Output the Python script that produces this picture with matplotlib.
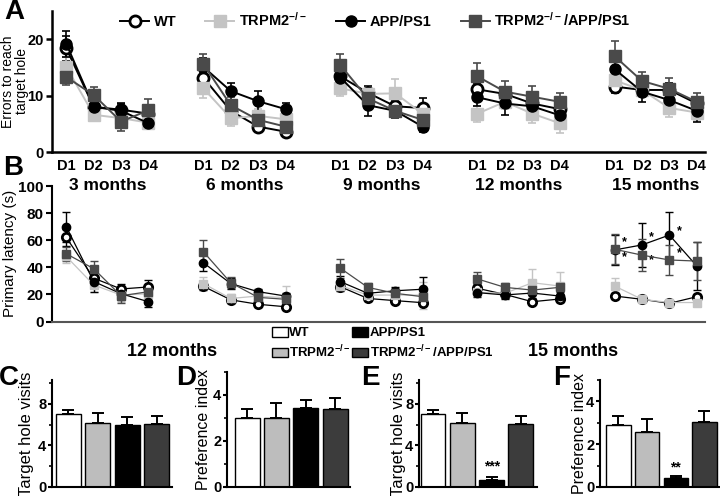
import numpy as np
import matplotlib
matplotlib.use("Agg")
import matplotlib.pyplot as plt
from matplotlib.patches import Patch

plt.rcParams['font.family'] = ['Liberation Sans', 'DejaVu Sans']
plt.rcParams['font.weight'] = 'bold'
plt.rcParams['mathtext.fontset'] = 'custom'
plt.rcParams['mathtext.rm'] = 'Liberation Sans:bold'
plt.rcParams['mathtext.bf'] = 'Liberation Sans:bold'
plt.rcParams['mathtext.default'] = 'bf'

days = ['D1', 'D2', 'D3', 'D4']
ages = ['3 months', '6 months', '9 months', '12 months', '15 months']
genotypes = ['WT', 'TRPM2$^{-/-}$', 'APP/PS1', 'TRPM2$^{-/-}$/APP/PS1']

# panel A: errors to reach target hole (mean, sem) per age x day
err_wt = [[18.4, 8.0, 7.5, 6.8], [13.2, 7.3, 4.5, 3.6], [13.4, 10.5, 8.1, 7.8], [11.1, 10.3, 8.6, 7.6], [11.6, 11.0, 11.0, 8.6]]
err_trpm = [[15.1, 6.6, 6.0, 5.2], [11.3, 6.0, 6.4, 5.8], [11.3, 10.3, 10.4, 6.8], [6.8, 8.9, 6.8, 5.1], [12.7, 11.0, 7.8, 7.0]]
err_app = [[19.2, 8.0, 7.3, 5.1], [15.1, 10.8, 9.0, 7.6], [13.2, 8.3, 7.3, 4.5], [9.7, 8.6, 8.1, 6.5], [14.7, 10.7, 9.2, 7.3]]
err_tapp = [[13.3, 10.1, 5.4, 7.4], [15.6, 8.3, 5.7, 4.5], [15.4, 9.5, 7.3, 5.7], [13.4, 10.7, 9.8, 8.9], [17.0, 12.6, 11.2, 8.9]]
err_wt_sem = [[2.2, 1.0, 1.1, 1.2], [1.0, 1.0, 0.6, 0.6], [1.5, 1.2, 1.0, 1.7], [1.2, 1.2, 1.3, 1.5], [1.2, 1.0, 1.2, 1.2]]
err_trpm_sem = [[1.7, 1.0, 1.2, 1.0], [1.8, 1.4, 1.2, 1.0], [1.3, 1.0, 2.5, 1.2], [1.4, 1.2, 1.7, 1.7], [1.5, 1.2, 1.6, 1.5]]
err_app_sem = [[2.3, 1.0, 1.2, 1.0], [1.5, 1.5, 1.8, 1.0], [1.3, 1.9, 1.2, 1.0], [1.5, 2.1, 1.5, 1.2], [1.8, 1.8, 1.6, 1.9]]
err_tapp_sem = [[1.4, 1.5, 1.6, 2.0], [1.7, 1.5, 1.4, 1.2], [1.9, 1.3, 1.2, 1.3], [2.3, 1.9, 1.9, 1.6], [2.7, 1.6, 2.0, 1.6]]

# panel B: primary latency (s)
lat_wt = [[62, 32, 24, 25.5], [26, 16, 12.7, 10.9], [25.7, 17, 15.4, 13.9], [24.5, 20, 14.6, 16.6], [18.8, 16.4, 13.4, 18.3]]
lat_trpm = [[48, 27, 19.5, 20.5], [28, 17, 18.8, 17.5], [26.5, 19.5, 19.5, 19.5], [21.5, 20.8, 28.6, 26.2], [26.2, 16.4, 14, 14]]
lat_app = [[70, 29.5, 20.5, 14.6], [43.4, 28, 22, 18.8], [29.4, 20.8, 22.7, 23.8], [21.3, 19.6, 21, 18.8], [52.8, 56.5, 63.8, 41]]
lat_tapp = [[50, 39, 19, 22], [51.5, 28.6, 17.8, 16.4], [39.3, 25.2, 20.8, 18.3], [31.4, 25.2, 23.2, 25.2], [53.3, 49, 45.4, 44.6]]
lat_wt_sem = [[6, 5, 4, 5], [3, 2, 2, 2], [3, 2, 2, 2], [3, 3, 2, 2], [2, 2, 2, 2]]
lat_trpm_sem = [[5, 5, 5, 5], [5, 3, 3, 9], [4, 3, 3, 10], [3, 3, 10, 10], [6, 2, 2, 2]]
lat_app_sem = [[11, 8, 5, 4], [6, 4, 2, 2], [4, 3, 3, 9], [3, 3, 4, 3], [11, 16, 17, 18]]
lat_tapp_sem = [[5, 6, 5, 5], [9, 4, 3, 3], [7, 3, 3, 3], [5, 3, 3, 3], [11, 12, 11, 14]]

# bar panels C-F (12 and 15 months probe trial)
visits_12 = [7.0, 6.2, 6.0, 6.1]
visits_12_sem = [0.4, 0.95, 0.7, 0.7]
pref_12 = [3.0, 3.0, 3.45, 3.4]
pref_12_sem = [0.4, 0.65, 0.33, 0.45]
visits_15 = [7.0, 6.2, 0.7, 6.1]
visits_15_sem = [0.4, 0.95, 0.25, 0.7]
pref_15 = [2.92, 2.55, 0.4, 3.05]
pref_15_sem = [0.38, 0.65, 0.13, 0.5]

line_colors = ['black', '#c4c4c4', 'black', '#4a4a4a']
face_colors = ['white', '#c4c4c4', 'black', '#4a4a4a']
markers = ['o', 's', 'o', 's']
bar_colors = ['white', '#bdbdbd', 'black', '#3c3c3c']

W, H = 720, 496
fig = plt.figure(figsize=(W / 100, H / 100), dpi=100)


def px_axes(x0, y0, x1, y1):
    ax = fig.add_axes([x0 / W, 1 - y1 / H, (x1 - x0) / W, (y1 - y0) / H])
    ax._px = (x0, x1)
    return ax


def ftext(x, y, s, **kw):
    fig.text(x / W, 1 - y / H, s, **kw)


def label_at(ax, text, xpx, size, **kw):
    # put the y label centred at a given pixel column
    x0, x1 = ax._px
    ax.set_ylabel(text, fontsize=size, **kw)
    ax.yaxis.set_label_coords((xpx - x0) / (x1 - x0), 0.5)
    ax.yaxis.label.set_va('center')


def style(ax, lw=1.6, size=10):
    for s in ['top', 'right']:
        ax.spines[s].set_visible(False)
    for s in ['left', 'bottom']:
        ax.spines[s].set_linewidth(lw)
    ax.tick_params(width=lw, length=4, labelsize=size, pad=2)


def line_panel(ax, series, sems, ms, lw, ew):
    handles = []
    for gi in range(4):
        for k in range(5):
            xs = np.arange(4) + 5 * k
            ax.errorbar(xs, series[gi][k], yerr=sems[gi][k], fmt='none',
                        ecolor=line_colors[gi], elinewidth=ew, capsize=3, capthick=ew, zorder=2 + gi)
            ln, = ax.plot(xs, series[gi][k], color=line_colors[gi], lw=lw,
                          marker=markers[gi], ms=ms, mfc=face_colors[gi],
                          mec=line_colors[gi], mew=2 if gi == 0 else 1, zorder=6 + gi)
        handles.append(ln)
    ax.set_xlim(-0.52, 23.3)
    return handles


# ---- panel A
axA = px_axes(52, 11, 705, 152)
style(axA, 1.8, 10.5)
hA = line_panel(axA, [err_wt, err_trpm, err_app, err_tapp],
                [err_wt_sem, err_trpm_sem, err_app_sem, err_tapp_sem], 8, 1.4, 1.2)
axA.set_ylim(0, 25)
axA.set_yticks([0, 10, 20])
xt = [5 * k + d for k in range(5) for d in range(4)]
axA.set_xticks(xt)
axA.set_xticklabels(days * 5, fontsize=10.5)
axA.tick_params(axis='x', length=0, pad=5)
label_at(axA, 'Errors to reach\ntarget hole', 15, 10, linespacing=0.95)

fig.legend(hA, genotypes, ncol=4, loc='center left', bbox_to_anchor=(120 / W, 1 - 20 / H),
           frameon=False, fontsize=10.5, handlelength=2.0, handletextpad=0.3, columnspacing=2.0,
           borderaxespad=0, borderpad=0)

# ---- panel B
axB = px_axes(52, 186, 705, 321.5)
style(axB, 1.5, 11)
axB.spines['bottom'].set_color('#555555')
line_panel(axB, [lat_wt, lat_trpm, lat_app, lat_tapp],
           [lat_wt_sem, lat_trpm_sem, lat_app_sem, lat_tapp_sem], 6, 0.9, 1.0)
axB.set_ylim(0, 100)
axB.set_yticks(range(0, 101, 20))
axB.set_xticks([])
label_at(axB, 'Primary latency (s)', 10, 11)
for k, age in enumerate(ages):
    axB.text(5 * k + 1.5, 100, age, ha='center', va='center', fontsize=12.5)

# significance stars at 15 months
star_app_off = [6, 6, 3]
star_tapp_off = [-6, -4, 5]
for d in range(3):
    x = 20 + d + 0.35
    axB.text(x, lat_app[4][d] + star_app_off[d], '*', fontsize=9, ha='center', va='center')
    axB.text(x, lat_tapp[4][d] + star_tapp_off[d], '*', fontsize=9, ha='center', va='center')


# ---- bar panels
def bar_panel(ax, vals, sems, ylim, ticks, minor, xlim, ylabel, lab_x, lab_size=12, stars=None):
    style(ax, 1.5, 10.5)
    ax.tick_params(axis='y', length=3, pad=1)
    x = np.arange(4)
    ax.bar(x, vals, width=0.85, color=bar_colors, edgecolor='black', linewidth=1, zorder=2)
    ax.errorbar(x, vals, yerr=[np.zeros(4), sems], fmt='none', ecolor='black',
                elinewidth=1.4, capsize=4, capthick=1.4, zorder=1)
    ax.set_ylim(*ylim)
    ax.set_xlim(*xlim)
    ax.set_yticks(ticks)
    ax.set_yticks(minor, minor=True)
    ax.tick_params(axis='y', which='minor', length=2.5, width=1.2)
    ax.set_xticks([])
    label_at(ax, ylabel, lab_x, lab_size)
    if stars:
        i, s, off = stars
        ax.text(i, vals[i] + sems[i] + off, s, ha='center', va='center', fontsize=10)


axC = px_axes(52, 380, 172, 487)
bar_panel(axC, visits_12, visits_12_sem, (0, 10.3), [0, 4, 8], [2, 6, 10], (-0.55, 3.52),
          'Target hole visits', 27)
axD = px_axes(227, 372, 350, 487)
bar_panel(axD, pref_12, pref_12_sem, (0, 5), [0, 2, 4], [1, 3, 5], (-0.68, 3.5),
          'Preference index', 204, lab_size=11.5)
axE = px_axes(419, 380, 537, 487)
bar_panel(axE, visits_15, visits_15_sem, (0, 10.3), [0, 4, 8], [2, 6, 10], (-0.48, 3.55),
          'Target hole visits', 398, stars=(2, '***', 1.0))
axF = px_axes(600, 380, 720, 487)
bar_panel(axF, pref_15, pref_15_sem, (0, 5), [0, 2, 4], [1, 3, 5], (-0.64, 3.54),
          'Preference index', 580, lab_size=11.5, stars=(2, '**', 0.4))

ftext(172, 352, '12 months', ha='center', va='center', fontsize=13)
ftext(573, 352, '15 months', ha='center', va='center', fontsize=13)

bar_handles = [Patch(facecolor=c, edgecolor='black', linewidth=1) for c in bar_colors]
fig.legend(bar_handles, genotypes, ncol=2, loc='upper left', bbox_to_anchor=(272 / W, 1 - 327 / H),
           frameon=False, fontsize=9.5, handlelength=1.2, handleheight=0.75, handletextpad=0.1,
           columnspacing=0.1, labelspacing=0.3, borderaxespad=0, borderpad=0)

# panel letters
for letter, x, y in [('A', 4, 12), ('B', 3, 168), ('C', -1, 378), ('D', 176, 378), ('E', 361, 378), ('F', 553, 378)]:
    ftext(x, y, letter, fontsize=20, va='center', ha='left')

fig.savefig('out.png', dpi=100)
